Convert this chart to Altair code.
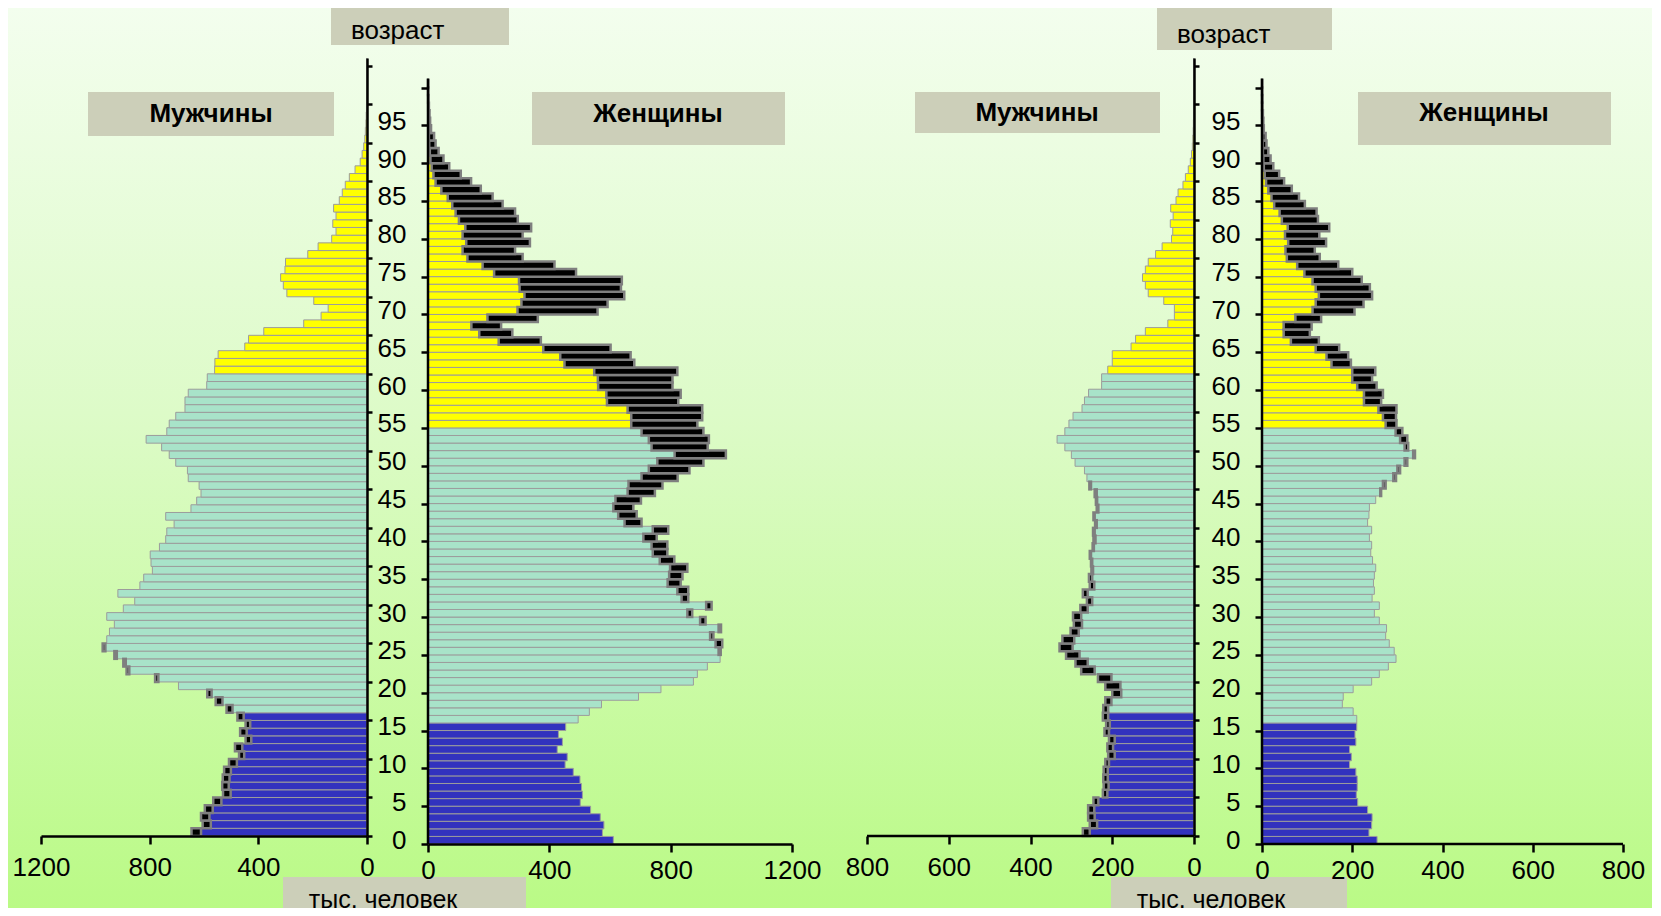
import altair as alt
import pandas as pd

# ---------------- data (thousands of people, by single year of age) ----------------
ages = list(range(101))

male_left = [646, 605, 611, 597, 566, 530, 533, 531, 526, 508,
             471, 486, 447, 467, 447, 477, 517, 557, 588, 694,
             780, 885, 897, 930, 973, 958, 948, 930, 958, 897,
             855, 917, 836, 822, 790, 795, 798, 764, 741, 737,
             710, 741, 648, 627, 611, 618, 658, 661, 704, 728,
             756, 813, 737, 728, 704, 670, 670, 658, 590, 588,
             561, 560, 548, 450, 436, 380, 233, 169, 143, 196,
             295, 308, 318, 302, 300, 218, 180, 130, 114, 126,
             114, 123, 102, 91, 80, 65, 44, 25, 18, 12,
             8, 6, 4, 3, 2, 1.5, 1, 0.7, 0.5, 0.3, 0.2]

female_left = [611, 575, 580, 568, 536, 502, 509, 506, 501, 479,
               452, 459, 426, 443, 430, 454, 495, 532, 572, 694,
               768, 875, 888, 921, 963, 965, 970, 941, 966, 915,
               871, 935, 858, 858, 833, 839, 855, 812, 789, 789,
               754, 792, 704, 688, 677, 702, 748, 773, 823, 862,
               908, 982, 922, 926, 908, 888, 904, 904, 825, 833,
               806, 806, 822, 680, 668, 602, 372, 278, 241, 362,
               559, 592, 647, 636, 639, 488, 417, 312, 287, 336,
               312, 340, 296, 287, 246, 213, 174, 142, 108, 70,
               51, 35, 25, 20, 10, 7, 5, 3, 2, 1, 1]

male_right = [272, 255, 259, 259, 246, 223, 221, 222, 221, 217,
              210, 212, 208, 219, 215, 223, 222, 217, 200, 217,
              235, 276, 290, 313, 329, 322, 302, 294, 296, 278,
              262, 272, 255, 257, 251, 252, 255, 248, 246, 247,
              242, 246, 238, 240, 243, 256, 262, 268, 291, 300,
              316, 335, 316, 306, 296, 274, 268, 258, 226, 226,
              211, 200, 200, 154, 143, 119, 64, 48, 48, 74,
              112, 119, 126, 119, 112, 94, 78, 55, 52, 58,
              51, 57, 44, 39, 27, 21, 14, 9, 6, 4,
              3, 2, 1.5, 1, 0.7, 0.5, 0.3, 0.2, 0.1, 0.1, 0.1]

female_right = [255, 237, 243, 244, 234, 212, 209, 211, 211, 208,
                194, 198, 194, 208, 206, 210, 210, 202, 178, 180,
                202, 243, 260, 280, 297, 293, 282, 274, 276, 260,
                249, 260, 244, 249, 247, 249, 252, 245, 241, 243,
                238, 243, 234, 237, 238, 252, 264, 274, 297, 306,
                322, 339, 324, 322, 311, 298, 297, 298, 264, 268,
                254, 244, 251, 197, 191, 171, 126, 106, 110, 131,
                205, 225, 244, 239, 221, 200, 169, 128, 117, 142,
                127, 149, 124, 121, 95, 82, 66, 49, 38, 25,
                19, 14, 10, 8, 4, 3, 2, 1, 1, 0.5, 0.5]

x_ticks_left = [0, 400, 800, 1200]
x_ticks_right = [0, 200, 400, 600, 800]
age_ticks = list(range(0, 101, 5))

# ---------------- styles ----------------
BLUE = "#3232BE"
TEAL = "#A8E3C9"
YELLOW = "#FFFF00"
BOX = "#CCCFB9"
FONT = "Liberation Sans"

fill_scale = alt.Scale(domain=["child", "work", "old"], range=[BLUE, TEAL, YELLOW])
one = pd.DataFrame({"k": [0]})


def frame(male, female):
    df = pd.DataFrame({"age": ages, "M": male, "F": female})
    df["age1"] = df["age"] + 1
    df["x0"] = 0.0
    df["common"] = df[["M", "F"]].min(axis=1)
    df["grp_m"] = ["child" if a < 16 else ("work" if a < 60 else "old") for a in ages]
    df["grp_f"] = ["child" if a < 16 else ("work" if a < 55 else "old") for a in ages]
    return df


def ax(**kw):
    base = dict(title=None, grid=False, domainColor="black", domainWidth=2.5,
                tickColor="black", tickWidth=2.5, labelColor="black", labelFont=FONT,
                labelFontSize=26, zindex=1, labelFlush=False, labelOverlap=False,
                labelBound=False, format="d")
    base.update(kw)
    return alt.Axis(**base)


def box(x1, x2, y1, y2):
    return alt.Chart(one).mark_rect(fill=BOX).encode(
        x=alt.value(x1), x2=alt.value(x2), y=alt.value(y1), y2=alt.value(y2))


def label(text, x, y, bold=False, align="center", baseline="middle", size=26):
    return alt.Chart(one).mark_text(
        text=text, font=FONT, fontSize=size, fontWeight="bold" if bold else "normal",
        align=align, baseline=baseline, color="black").encode(x=alt.value(x), y=alt.value(y))


def male_panel(df, xmax, xticks, width, dom_max, extra_first=None):
    # dom_max > xmax extends the plot to the left of the last tick (axis line drawn as a rule)
    xs = alt.Scale(domain=[0, dom_max], reverse=True, nice=False, zero=False)
    ys = alt.Scale(domain=[0, 101], nice=False, zero=False)
    own_line = dom_max > xmax
    xa = ax(values=xticks, tickSize=8, labelPadding=10, domain=not own_line)
    ya = ax(orient="right", values=age_ticks, labels=False, tickSize=5)
    base = alt.Chart(df)
    bars = base.mark_rect(stroke="#9C9C9C", strokeWidth=1).encode(
        x=alt.X("x0:Q", scale=xs, axis=xa),
        x2="common:Q",
        y=alt.Y("age:Q", scale=ys, axis=ya),
        y2="age1:Q",
        fill=alt.Fill("grp_m:N", scale=fill_scale, legend=None),
    )
    excess = base.transform_filter("datum.M > datum.F").mark_rect(
        fill="black", stroke="#7F7F7F", strokeWidth=2.5).encode(
        x=alt.X("common:Q", scale=xs, axis=xa), x2="M:Q",
        y=alt.Y("age:Q", scale=ys, axis=ya), y2="age1:Q")
    layers = [bars, excess]
    if own_line:
        line_df = pd.DataFrame({"a": [0.0], "b": [float(xmax)], "y": [0.0]})
        layers.append(alt.Chart(line_df).mark_rule(color="black", strokeWidth=2.5).encode(
            x=alt.X("a:Q", scale=xs, axis=xa), x2="b:Q", y=alt.Y("y:Q", scale=ys, axis=ya)))
    if extra_first is not None:
        layers = [extra_first] + layers
    return alt.layer(*layers).properties(width=width, height=778)


def female_panel(df, xmax, xticks, width, dom_min, notes):
    xs = alt.Scale(domain=[dom_min, xmax], nice=False, zero=False)
    ys = alt.Scale(domain=[0, 103.9], nice=False, zero=False)
    shift = 0 if dom_min == 0 else -round(width * (-dom_min) / (xmax - dom_min))
    xa = ax(values=xticks, tickSize=8, labelPadding=5, domain=(dom_min == 0))
    ya = ax(orient="left", values=age_ticks, tickSize=7, domain=False, labelPadding=15,
            labelOffset=-4, offset=shift,
            labelExpr="datum.value >= 100 ? '' : datum.label")
    base = alt.Chart(df)
    bars = base.mark_rect(stroke="#9C9C9C", strokeWidth=1).encode(
        x=alt.X("x0:Q", scale=xs, axis=xa),
        x2="common:Q",
        y=alt.Y("age:Q", scale=ys, axis=ya),
        y2="age1:Q",
        fill=alt.Fill("grp_f:N", scale=fill_scale, legend=None),
    )
    excess = base.transform_filter("datum.F > datum.M").mark_rect(
        fill="black", stroke="#7F7F7F", strokeWidth=2.5).encode(
        x=alt.X("common:Q", scale=xs, axis=xa), x2="F:Q",
        y=alt.Y("age:Q", scale=ys, axis=ya), y2="age1:Q")
    axis_df = pd.DataFrame({"y0": [0.0], "y1": [101.2]})
    rule = alt.Chart(axis_df).mark_rule(color="black", strokeWidth=2.5).encode(
        x=alt.datum(0), y=alt.Y("y0:Q", scale=ys, axis=ya), y2="y1:Q")
    layers = [bars, excess, rule]
    if dom_min != 0:
        line_df = pd.DataFrame({"a": [0.0], "b": [float(xmax)], "y": [0.0]})
        layers.append(alt.Chart(line_df).mark_rule(color="black", strokeWidth=2.5).encode(
            x=alt.X("a:Q", scale=xs, axis=xa), x2="b:Q", y=alt.Y("y:Q", scale=ys, axis=ya)))
    return alt.layer(*layers, *notes).properties(width=width, height=786)


background = alt.Chart(one).mark_rect(
    fill=alt.Gradient(
        gradient="linear",
        stops=[alt.GradientStop(color="#F3FEEE", offset=0),
               alt.GradientStop(color="#DDFBC8", offset=0.45),
               alt.GradientStop(color="#BAFA86", offset=1)],
        x1=0, x2=0, y1=0, y2=1)
).encode(x=alt.value(-33), x2=alt.value(1611), y=alt.value(-50), y2=alt.value(850))

left_df = frame(male_left, female_left)
right_df = frame(male_right, female_right)

notes_left = [
    box(-340, -94, 34, 78), label("Мужчины", -217, 56, bold=True),
    box(104, 357, 34, 87), label("Женщины", 230, 56, bold=True),
    box(-97, 81, -50, -13), label("возраст", -77, -19, align="left", baseline="alphabetic"),
    box(-145, 98, 819, 850), label("тыс. человек", -45, 842, size=25),
]
notes_right = [
    box(-340, -95, 34, 75), label("Мужчины", -218, 55, bold=True),
    box(103, 356, 34, 87), label("Женщины", 229, 55, bold=True),
    box(-98, 77, -50, -8), label("возраст", -78, -15, align="left", baseline="alphabetic"),
    box(-144, 92, 819, 850), label("тыс. человек", -44, 842, size=25),
]

ml = male_panel(left_df, 1200, x_ticks_left, 326, 1200, extra_first=background)
fl = female_panel(left_df, 1200, x_ticks_left, 364, 0, notes_left)
mr = male_panel(right_df, 800, x_ticks_right, 341, 800 * 341 / 327)
fr = female_panel(right_df, 800, x_ticks_right, 368, -800 * 7 / 361, notes_right)

chart = alt.hconcat(ml, fl, mr, fr, spacing=61, bounds="flush").properties(
    padding=0).configure_view(strokeWidth=0)

chart.save("out.html", embed_options={"renderer": "svg", "actions": False})
